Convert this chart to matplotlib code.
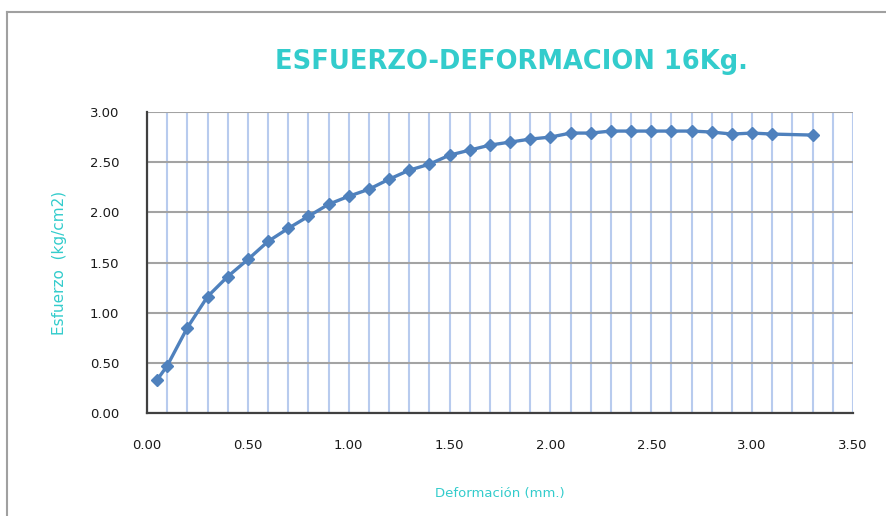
import matplotlib
matplotlib.use("Agg")
import matplotlib.pyplot as plt
from matplotlib.ticker import MultipleLocator, FormatStrFormatter
from matplotlib.lines import Line2D

# Strain (mm) and stress (kg/cm2) readings
deformacion = [0.05, 0.1, 0.2, 0.3, 0.4, 0.5, 0.6, 0.7, 0.8, 0.9, 1.0,
               1.1, 1.2, 1.3, 1.4, 1.5, 1.6, 1.7, 1.8, 1.9, 2.0, 2.1,
               2.2, 2.3, 2.4, 2.5, 2.6, 2.7, 2.8, 2.9, 3.0, 3.1, 3.3]
esfuerzo = [0.33, 0.47, 0.85, 1.16, 1.36, 1.53, 1.71, 1.84, 1.96, 2.08, 2.16,
            2.23, 2.33, 2.42, 2.48, 2.57, 2.62, 2.67, 2.70, 2.73, 2.75, 2.79,
            2.79, 2.81, 2.81, 2.81, 2.81, 2.81, 2.80, 2.78, 2.79, 2.78, 2.77]

titulo = "ESFUERZO-DEFORMACION 16Kg."
etiqueta_x = "Deformación (mm.)"
etiqueta_y = "Esfuerzo  (kg/cm2)"

TURQ = "#33cccc"
LINE = "#4f81bd"

fig = plt.figure(figsize=(8.87, 5.16), dpi=100)
ax = fig.add_axes([147/887, 1-413/516, (853-147)/887, (413-112)/516])

ax.plot(deformacion, esfuerzo, color=LINE, lw=2.4, marker="D",
        markersize=6.5, markerfacecolor=LINE, markeredgecolor=LINE, zorder=3)

ax.set_xlim(0, 3.5)
ax.set_ylim(0, 3.0)
ax.xaxis.set_major_locator(MultipleLocator(0.5))
ax.xaxis.set_minor_locator(MultipleLocator(0.1))
ax.yaxis.set_major_locator(MultipleLocator(0.5))
ax.xaxis.set_major_formatter(FormatStrFormatter("%.2f"))
ax.yaxis.set_major_formatter(FormatStrFormatter("%.2f"))

ax.grid(True, which="both", axis="x", color="#b8cbee", lw=1.5, zorder=1)
ax.grid(True, which="major", axis="y", color="#a3a3a3", lw=1.5, zorder=1)

for s in ("top", "right"):
    ax.spines[s].set_visible(False)
for s in ("left", "bottom"):
    ax.spines[s].set_color("#404040")
    ax.spines[s].set_linewidth(1.6)
    ax.spines[s].set_zorder(4)

ax.tick_params(which="both", length=0, labelsize=9.5, labelcolor="#1a1a1a")
ax.tick_params(axis="x", pad=19)
ax.tick_params(axis="y", pad=20)

ax.set_xlabel(etiqueta_x, color=TURQ, fontsize=9.5, labelpad=25)
ax.set_ylabel(etiqueta_y, color=TURQ, fontsize=11, labelpad=16)

fig.text(511/887, 1-62/516, titulo, color=TURQ, fontsize=18.5,
         fontweight="bold", ha="center", va="center")

# chart frame
fig.add_artist(Line2D([7/887, 7/887], [0, 1-12/516], transform=fig.transFigure,
                      color="#a0a0a0", lw=1.5))
fig.add_artist(Line2D([7/887, 1], [1-12/516, 1-12/516], transform=fig.transFigure,
                      color="#a0a0a0", lw=1.5))

fig.savefig("out.png", dpi=100)
